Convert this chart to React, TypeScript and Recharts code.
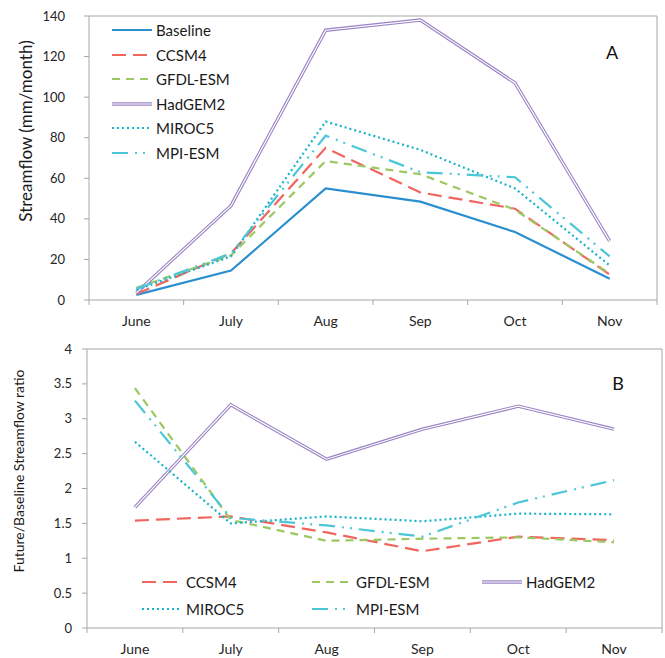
import React from "react";
import { LineChart, Line, XAxis, YAxis, ReferenceLine } from "recharts";

const months = ["June", "July", "Aug", "Sep", "Oct", "Nov"];
const flowTicks = [0, 20, 40, 60, 80, 100, 120, 140];
const ratioTicks = [0, 0.5, 1, 1.5, 2, 2.5, 3, 3.5, 4];

// panel A, streamflow (mm/month)
const baselineFlow = [2.5, 14.5, 55, 48.5, 33.5, 10.5];
const ccsm4Flow = [3, 23, 75, 53, 45, 12.5];
const gfdlFlow = [6, 22, 68.5, 62, 44.5, 13];
const hadgemFlow = [3.5, 46.5, 133, 138, 107, 29];
const mirocFlow = [5, 21.5, 88, 74, 55, 17];
const mpiFlow = [5.5, 23, 81, 63, 60.5, 21.5];

// panel B, future/baseline ratio
const ccsm4Ratio = [1.54, 1.6, 1.37, 1.1, 1.31, 1.26];
const gfdlRatio = [3.44, 1.55, 1.25, 1.28, 1.3, 1.23];
const hadgemRatio = [1.73, 3.2, 2.42, 2.85, 3.18, 2.85];
const mirocRatio = [2.67, 1.5, 1.6, 1.53, 1.64, 1.63];
const mpiRatio = [3.26, 1.58, 1.47, 1.31, 1.8, 2.12];

const flowRows = months.map((month, i) => ({
  x: i + 0.5,
  month,
  Baseline: baselineFlow[i],
  CCSM4: ccsm4Flow[i],
  "GFDL-ESM": gfdlFlow[i],
  HadGEM2: hadgemFlow[i],
  MIROC5: mirocFlow[i],
  "MPI-ESM": mpiFlow[i],
}));

const ratioRows = months.map((month, i) => ({
  x: i + 0.5,
  month,
  CCSM4: ccsm4Ratio[i],
  "GFDL-ESM": gfdlRatio[i],
  HadGEM2: hadgemRatio[i],
  MIROC5: mirocRatio[i],
  "MPI-ESM": mpiRatio[i],
}));

const styles: Record<string, { color: string; dash?: string; width: number; double?: boolean }> = {
  Baseline: { color: "#2B8FCF", width: 2.2 },
  CCSM4: { color: "#F0665F", dash: "14 7", width: 2.2 },
  "GFDL-ESM": { color: "#9BC862", dash: "8 6", width: 2.2 },
  HadGEM2: { color: "#9A84C4", width: 3.4, double: true },
  MIROC5: { color: "#17B3CC", dash: "2 3", width: 2.2 },
  "MPI-ESM": { color: "#4CC7D7", dash: "16 7 2 6 2 7", width: 2.2 },
};

const flowSeries = ["Baseline", "CCSM4", "GFDL-ESM", "HadGEM2", "MIROC5", "MPI-ESM"];
const ratioSeries = ["CCSM4", "GFDL-ESM", "HadGEM2", "MIROC5", "MPI-ESM"];

const centers = months.map((_, i) => i + 0.5);
const bounds = [0, ...months.map((_, i) => i + 1)];

const axisGray = "#a6a6a6";
const font = "Lato, 'Open Sans', sans-serif";

// small tick under the x axis at a category boundary
const xTickShape = (p: any) => {
  const yb = Math.max(p.y1, p.y2);
  return <line x1={p.x1} x2={p.x1} y1={yb} y2={yb + 5} stroke={axisGray} strokeWidth={1} />;
};
// small tick left of the y axis
const yTickShape = (p: any) => {
  const xl = Math.min(p.x1, p.x2);
  return <line x1={xl - 5} x2={xl} y1={p.y1} y2={p.y1} stroke={axisGray} strokeWidth={1} />;
};

function renderLines(names: string[]) {
  const out: React.ReactNode[] = [];
  names.forEach((name) => {
    const s = styles[name];
    out.push(
      <Line
        key={name}
        type="linear"
        dataKey={name}
        stroke={s.color}
        strokeWidth={s.width}
        strokeDasharray={s.dash}
        dot={false}
        activeDot={false}
        isAnimationActive={false}
      />
    );
    if (s.double) {
      out.push(
        <Line
          key={name + "-inner"}
          type="linear"
          dataKey={name}
          stroke="#ffffff"
          strokeWidth={1.2}
          dot={false}
          activeDot={false}
          isAnimationActive={false}
        />
      );
    }
  });
  return out;
}

function Frame(yTicks: number[], yWidth: number, tickMargin: number, xMargin: number) {
  const yMin = yTicks[0];
  const yMax = yTicks[yTicks.length - 1];
  return [
    <XAxis
      key="x"
      type="number"
      dataKey="x"
      domain={[0, months.length]}
      ticks={centers}
      interval={0}
      allowDataOverflow
      tickFormatter={(v: number) => months[Math.round(v - 0.5)]}
      axisLine={false}
      tickLine={false}
      tickSize={5}
      tickMargin={xMargin}
      height={30}
      tick={{ fill: "#262626", fontSize: 14, fontFamily: font }}
    />,
    <YAxis
      key="y"
      domain={[yMin, yMax]}
      ticks={yTicks}
      interval={0}
      width={yWidth}
      tickSize={5}
      tickMargin={tickMargin}
      axisLine={false}
      tickLine={false}
      tick={{ fill: "#262626", fontSize: 13, fontFamily: font }}
    />,
    <ReferenceLine key="left" x={0} stroke={axisGray} ifOverflow="visible" />,
    <ReferenceLine key="right" x={months.length} stroke={axisGray} ifOverflow="visible" />,
    <ReferenceLine key="bottom" y={yMin} stroke={axisGray} ifOverflow="visible" />,
    <ReferenceLine key="top" y={yMax} stroke={axisGray} ifOverflow="visible" />,
    ...bounds.map((b) => (
      <ReferenceLine key={"xt" + b} x={b} ifOverflow="visible" shape={xTickShape} />
    )),
    ...yTicks.map((t) => (
      <ReferenceLine key={"yt" + t} y={t} ifOverflow="visible" shape={yTickShape} />
    )),
  ];
}

function Swatch({ name }: { name: string }) {
  const s = styles[name];
  return (
    <svg width={40} height={10} style={{ display: "block" }}>
      <line x1={0} y1={5} x2={40} y2={5} stroke={s.color} strokeWidth={s.width} strokeDasharray={s.dash} />
      {s.double && <line x1={0} y1={5} x2={40} y2={5} stroke="#fff" strokeWidth={1.2} />}
    </svg>
  );
}

function LegendItem({ name, x, y }: { name: string; x: number; y: number }) {
  return (
    <div
      style={{
        position: "absolute",
        left: x,
        top: y - 10,
        height: 20,
        display: "flex",
        alignItems: "center",
        gap: 4,
        fontSize: 15,
        color: "#1a1a1a",
        whiteSpace: "nowrap",
      }}
    >
      <Swatch name={name} />
      <span>{name}</span>
    </div>
  );
}

export default function App() {
  return (
    <div
      style={{
        position: "absolute",
        left: 0,
        top: 0,
        width: 665,
        height: 658,
        background: "#fff",
        fontFamily: font,
      }}
    >
      <div style={{ position: "absolute", left: 0, top: 0 }}>
        <LineChart width={665} height={330} data={flowRows} margin={{ top: 16, right: 8, bottom: 0, left: 0 }}>
          {Frame(flowTicks, 89, 19, 11)}
          {renderLines(flowSeries)}
        </LineChart>
      </div>
      <div style={{ position: "absolute", left: 0, top: 330 }}>
        <LineChart width={665} height={328} data={ratioRows} margin={{ top: 19, right: 3, bottom: 0, left: 0 }}>
          {Frame(ratioTicks, 87, 10, 11)}
          {renderLines(ratioSeries)}
        </LineChart>
      </div>

      <svg width={665} height={658} style={{ position: "absolute", left: 0, top: 0, pointerEvents: "none" }}>
        <text
          x={25}
          y={131}
          transform="rotate(-90 25 131)"
          textAnchor="middle"
          dominantBaseline="central"
          fontSize={17}
          fill="#1a1a1a"
        >
          Streamflow (mm/month)
        </text>
        <text
          x={18}
          y={471}
          transform="rotate(-90 18 471)"
          textAnchor="middle"
          dominantBaseline="central"
          fontSize={14}
          fill="#1a1a1a"
        >
          Future/Baseline Streamflow ratio
        </text>
        <text x={612} y={52} textAnchor="middle" dominantBaseline="central" fontSize={18} fill="#111">
          A
        </text>
        <text x={618} y={383} textAnchor="middle" dominantBaseline="central" fontSize={18} fill="#111">
          B
        </text>
      </svg>

      {flowSeries.map((name, i) => (
        <LegendItem key={name} name={name} x={112} y={30 + i * 24.6} />
      ))}
      {ratioSeries.map((name, i) => (
        <LegendItem key={name} name={name} x={[142, 312, 482][i % 3]} y={[582, 609][Math.floor(i / 3)]} />
      ))}
    </div>
  );
}
